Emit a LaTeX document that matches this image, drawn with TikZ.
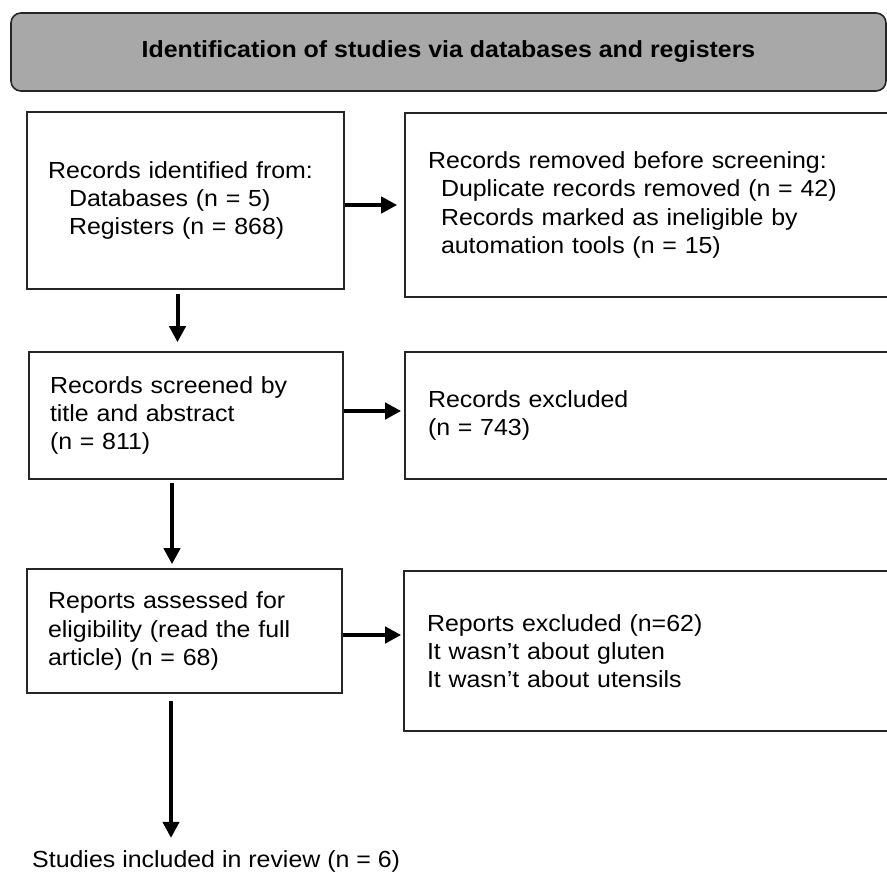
\documentclass[tikz,border=0pt]{standalone}
\usepackage{fontspec}
\setmainfont{Liberation Sans}[FakeStretch=1.07]
\usetikzlibrary{arrows.meta}

\begin{document}
\begin{tikzpicture}[x=1pt, y=-1pt,
	box/.style={draw=black!85, line width=1.6pt, align=left, inner xsep=21pt, inner ysep=0pt, font=\fontsize{23.3}{28.3}\selectfont},
	flow/.style={line width=4pt, -{Triangle[length=16pt,width=16pt]}}]
	% Page frame
	\useasboundingbox (0,0) rectangle (887,873);
	
	% Banner
	\node[draw=black!85, line width=1.6pt, fill=black!34, rounded corners=10pt, minimum width=875pt, minimum height=78pt, font=\bfseries\fontsize{23.3}{28.3}\selectfont] (banner) at (448.5,52) {Identification of studies via databases and registers};
	
	% Left column
	\node[box, text width=275pt, minimum height=177pt] (ident) at (185.5,200.5) {Records identified from:\\\hspace*{21pt}Databases (n = 5)\\\hspace*{21pt}Registers (n = 868)};
	\node[box, text width=272pt, minimum height=127pt] (screened) at (186,415.5) {Records screened by\\title and abstract\\(n = 811)};
	\node[box, text width=273pt, minimum height=124pt] (assessed) at (184.5,631) {Reports assessed for\\eligibility (read the full\\article) (n = 68)};
	\node[anchor=base west, inner sep=0pt, font=\fontsize{23.3}{28.3}\selectfont] (included) at (32,867) {Studies included in review (n = 6)};
	
	% Right column
	\node[box, inner xsep=23pt, text width=439pt, minimum height=184pt] (removed) at (647.5,205) {Records removed before screening:\\\hspace*{13pt}Duplicate records removed (n = 42)\\\hspace*{13pt}Records marked as ineligible by\\\hspace*{13pt}automation tools (n = 15)};
	\node[box, inner xsep=23pt, text width=439pt, minimum height=127pt] (excluded) at (647.5,415.5) {Records excluded\\(n = 743)};
	\node[box, inner xsep=23pt, text width=440pt, minimum height=160pt] (reports) at (647,651) {Reports excluded (n=62)\\It wasn't about gluten\\It wasn't about utensils};
	
	% Arrows to the right
	\draw[flow, shorten >=7pt] (ident.east |- removed.west) -- (removed.west);
	\draw[flow, shorten >=3pt] ([yshift=4.5pt]screened.east) -- ([yshift=4.5pt]screened.east -| excluded.west);
	\draw[flow, shorten >=2pt] ([yshift=-4pt]assessed.east) -- ([yshift=-4pt]assessed.east -| reports.west);
	
	% Arrows down
	\draw[flow, shorten <=4pt, shorten >=9pt] ([xshift=-8pt]ident.south) -- ([xshift=-8pt]ident.south |- screened.north);
	\draw[flow, shorten <=3pt, shorten >=4pt] ([xshift=-14pt]screened.south) -- ([xshift=-14pt]screened.south |- assessed.north);
	\draw[flow, shorten <=7pt, shorten >=12pt] ([xshift=-13.5pt]assessed.south) -- ([xshift=-13.5pt]assessed.south |- included.north);
	
\end{tikzpicture}
\end{document}
